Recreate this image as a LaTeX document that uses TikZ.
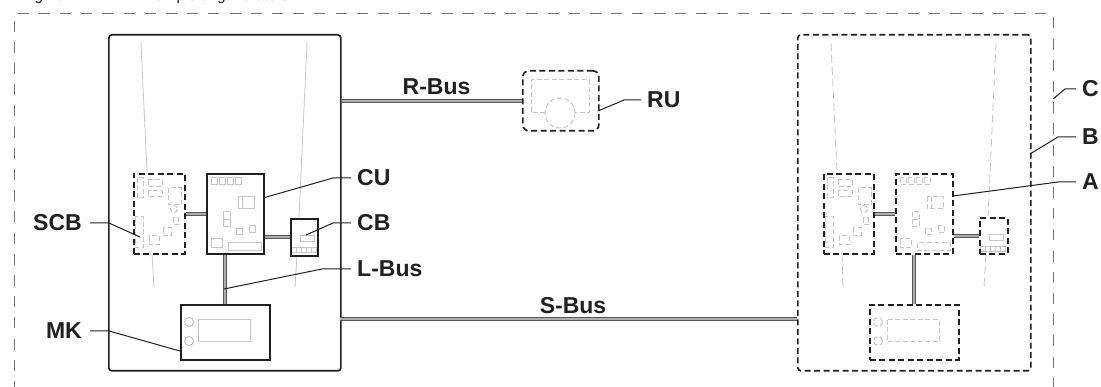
\documentclass[tikz,border=0pt]{standalone}
\usepackage{fontspec}
\setmainfont{Liberation Sans}
\usetikzlibrary{calc}
\definecolor{ink}{HTML}{231F20}
\definecolor{pale}{HTML}{C6C6C6}
\definecolor{zone}{HTML}{777777}
\tikzset{
 unit/.style={draw=ink,line width=1.7pt,rectangle,inner sep=0pt,anchor=north west},
 solidunit/.style={unit},
 dashunit/.style={unit,dash pattern=on 6pt off 3.5pt},
 part/.style={draw=pale,line width=1pt},
 solidpart/.style={part},
 dashpart/.style={part,dash pattern=on 5pt off 2.5pt},
 bus/.style={draw=ink!75!white,line width=1.1pt,double=zone!60!white,double distance=2pt},
 leader/.style={draw=ink,line width=1pt},
 lab/.style={font=\fontsize{23}{23}\selectfont\bfseries,text=ink,inner ysep=0pt,inner xsep=6pt},
 labl/.style={lab,inner xsep=8pt},
 busname/.style={font=\fontsize{23}{23}\selectfont\bfseries,text=ink,inner sep=0pt},
}
\newcommand{\scbparts}[1]{%
 \begin{scope}[shift={#1}]
  \draw[kind] (4,5) rectangle (10,25);
  \draw[kind] (15,7) rectangle (29,14);
  \draw[kind] (15,18) rectangle (29,24);
  \draw[kind] (35,15) rectangle (48,32);
  \draw[kind] (41,36) circle (3.5);
  \draw[kind] (40,45) rectangle (45,52);
  \draw[kind] (30,55) rectangle (38,63);
  \draw[kind] (16,63) rectangle (26,72);
  \draw[kind] (2,44) rectangle (10,75);
 \end{scope}}
\newcommand{\cuparts}[1]{%
 \begin{scope}[shift={#1}]
  \foreach \q in {5,13,21,29} \draw[kind] (\q,5) rectangle +(6,7);
  \draw[kind] (32,24) rectangle (48,36);
  \draw[kind] (36,24) -- (36,36);
  \draw[kind] (17,39) rectangle (24,54);
  \draw[kind] (17,47) -- (24,47);
  \draw[kind] (30,56) rectangle (36,62);
  \draw[kind] (43,53) rectangle (49,60);
  \draw[kind] (5,66) rectangle (16,75);
  \draw[kind] (22,70) rectangle (55,78);
 \end{scope}}
\newcommand{\cbparts}[1]{%
 \begin{scope}[shift={#1}]
  \draw[part] (10,18) rectangle (24,24);
  \draw[part] (1,30) rectangle (26,35);
  \foreach \q in {6,11,16,21} \draw[part] (\q,30) -- (\q,35);
 \end{scope}}
\newcommand{\mkparts}[1]{%
 \begin{scope}[shift={#1}]
  \draw[kind] (9,18) circle (4.5);
  \draw[kind] (9,37) circle (4.5);
  \draw[kind] (18,16) rectangle (70,38);
 \end{scope}}
\begin{document}
\begin{tikzpicture}[x=1pt,y=-1pt]
\useasboundingbox (0,0) rectangle (1101,387);
\clip (0,0) rectangle (1101,387);
% cropped caption
\node[anchor=base west,inner sep=0pt,font=\fontsize{15}{15}\selectfont,text=ink] (capa) at (22,1) {Figure 11};
\node[anchor=base west,inner sep=0pt,font=\fontsize{15}{15}\selectfont,text=ink] (capb) at (138,1) {Example of generators};
% zone C
\coordinate (za) at (14,392);
\coordinate (zb) at (14,14);
\coordinate (zc) at (1053,14);
\coordinate (zd) at (1053,392);
\draw[zone,line width=1pt,dash pattern=on 11pt off 10.2pt] (za) -- (zb) -- (zc) -- (zd);
% main boxes
\node[unit,rounded corners=3pt,minimum width=232pt,minimum height=336pt] (lbox) at (108,34) {};
\node[dashunit,rounded corners=3pt,minimum width=233pt,minimum height=336pt] (rbox) at (797,34) {};
% pale casing lines
\draw[part,line width=0.8pt] (141,43) -- (147,172);
\draw[part,line width=0.8pt] (152,254) -- (154,287);
\draw[part,line width=0.8pt] (307,43) -- (299,217);
\draw[part,line width=0.8pt] (297,256) -- (295,287);
\draw[dashpart,line width=0.8pt,dash pattern=on 8pt off 4pt] (831,43) -- (837,172);
\draw[dashpart,line width=0.8pt,dash pattern=on 8pt off 4pt] (842,254) -- (843,287);
\draw[dashpart,line width=0.8pt,dash pattern=on 8pt off 4pt] (996,43) -- (988,216);
\draw[dashpart,line width=0.8pt,dash pattern=on 8pt off 4pt] (986,254) -- (984,287);
% left unit parts
\tikzset{kind/.style={dashpart}}
\scbparts{(133,173)}
\tikzset{kind/.style={solidpart}}
\cuparts{(206,173)}
\cbparts{(290,218)}
\mkparts{(180,304)}
% right unit parts
\tikzset{kind/.style={dashpart}}
\scbparts{(823,173)}
\cuparts{(895,173)}
\cbparts{(979,217)}
\mkparts{(869,304)}
% RU parts
\draw[dashpart] (560,113) circle (15);
\draw[dashpart] (545,113) -- (531,113) -- (531,80) -- (589,80) -- (589,113) -- (575,113);
% left unit boxes
\node[dashunit,minimum width=51pt,minimum height=80pt] (scb) at (133,173) {};
\node[unit,minimum width=57pt,minimum height=80pt] (cu) at (206,173) {};
\node[unit,minimum width=27pt,minimum height=37pt] (cb) at (290,218) {};
\node[unit,minimum width=89pt,minimum height=55pt] (mk) at (180,304) {};
% right unit boxes
\node[dashunit,minimum width=50pt,minimum height=80pt] (scbr) at (823,173) {};
\node[dashunit,minimum width=57pt,minimum height=80pt] (cur) at (895,173) {};
\node[dashunit,minimum width=28pt,minimum height=36pt] (cbr) at (979,217) {};
\node[dashunit,minimum width=89pt,minimum height=55pt] (mkr) at (869,304) {};
% RU
\node[dashunit,rounded corners=6pt,minimum width=76pt,minimum height=60pt] (ru) at (522,70) {};
% buses
\coordinate (sy) at (340,319);
\draw[bus] (scb.east) -- (cu.west);
\draw[bus] (cb.west -| cu.east) -- (cb.west);
\draw[bus] (mk.north |- cu.south) -- (mk.north);
\draw[bus] (scbr.east) -- (cur.west);
\draw[bus] (cbr.west -| cur.east) -- (cbr.west);
\draw[bus] (mkr.north |- cur.south) -- (mkr.north);
\draw[bus] (ru.west -| lbox.east) -- (ru.west);
\draw[bus] (sy) -- (sy -| rbox.west);
% bus names
\node[busname,anchor=center] (rname) at (436.5,87) {R-Bus};
\node[busname,anchor=center] (sname) at (573,306) {S-Bus};
% labels
\node[labl,anchor=east] (lscb) at (90,223) {SCB};
\node[labl,anchor=east] (lmk) at (90,331) {MK};
\node[lab,anchor=west] (lcu) at (351,178) {CU};
\node[lab,anchor=west] (lcb) at (351,223) {CB};
\node[lab,anchor=west] (llb) at (351,269) {L-Bus};
\node[lab,anchor=west] (lru) at (641,100) {RU};
\node[lab,anchor=west] (lc) at (1076,89) {C};
\node[lab,anchor=west] (lb) at (1076,137) {B};
\node[lab,anchor=west] (la) at (1076,182) {A};
% leader ends
\coordinate (escb) at (140,237);
\coordinate (ecb) at (306,235);
\coordinate (elb) at (224,289);
\coordinate (emk) at (180,351);
\coordinate (ecu) at (263,198);
\coordinate (eru) at (598,111);
\coordinate (ec) at (1053,99);
\coordinate (eb) at (1030,154);
\coordinate (ea) at (953,196);
\draw[leader] (lscb.east) -- ++(19,0) -- (escb);
\draw[leader] (lmk.east) -- ++(19,0) -- (emk);
\draw[leader] (lcu.west) -- ++(-18,0) -- (ecu);
\draw[leader] (lcb.west) -- ++(-18,0) -- (ecb);
\draw[leader] (llb.west) -- ++(-29,0) -- (elb);
\draw[leader] (lru.west) -- ++(-17,0) -- (eru);
\draw[leader] (lc.west) -- ++(-11,0) -- (ec);
\draw[leader] (lb.west) -- ++(-18,0) -- (eb);
\draw[leader] (la.west) -- ++(-18,0) -- (ea);
\end{tikzpicture}
\end{document}
